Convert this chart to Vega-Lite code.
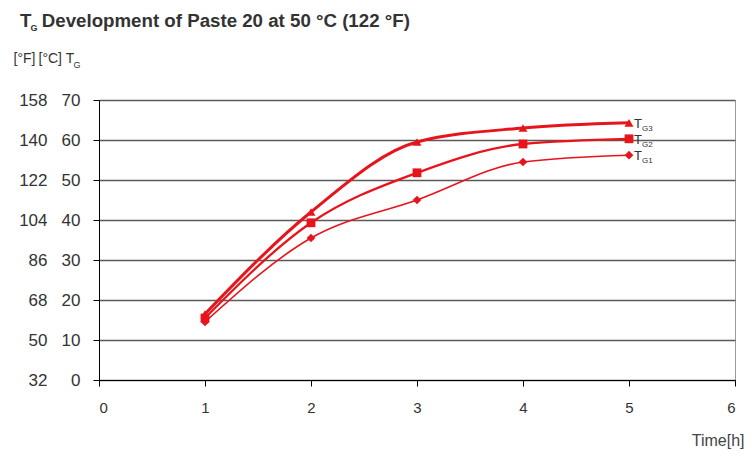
{
  "$schema": "https://vega.github.io/schema/vega-lite/v6.json",
  "width": 636,
  "height": 280,
  "autosize": {"type": "none"},
  "padding": {"left": 99, "top": 100, "right": 20, "bottom": 79},
  "background": "white",
  "config": {
    "font": "Liberation Sans",
    "view": {"stroke": "#9a9a9a", "strokeWidth": 1}
  },
  "title": {
    "text": "T\u00a0\u00a0Development of Paste 20 at 50 °C (122 °F)",
    "anchor": "start",
    "frame": "group",
    "dx": -79,
    "offset": -8,
    "fontSize": 18.7,
    "fontWeight": "bold",
    "color": "#333333"
  },
  "data": {
    "values": [
      {"series": "G3", "time": 1, "temp": 16.5},
      {"series": "G3", "time": 2, "temp": 42},
      {"series": "G3", "time": 3, "temp": 59.5},
      {"series": "G3", "time": 4, "temp": 63},
      {"series": "G3", "time": 5, "temp": 64.3},
      {"series": "G2", "time": 1, "temp": 15.5},
      {"series": "G2", "time": 2, "temp": 39.3},
      {"series": "G2", "time": 3, "temp": 51.8},
      {"series": "G2", "time": 4, "temp": 59},
      {"series": "G2", "time": 5, "temp": 60.3},
      {"series": "G1", "time": 1, "temp": 14.5},
      {"series": "G1", "time": 2, "temp": 35.5},
      {"series": "G1", "time": 3, "temp": 45},
      {"series": "G1", "time": 4, "temp": 54.5},
      {"series": "G1", "time": 5, "temp": 56.2}
    ]
  },
  "layer": [
    {
      "mark": {"type": "line", "interpolate": "monotone", "color": "#e8141c"},
      "encoding": {
        "x": {
          "field": "time", "type": "quantitative",
          "scale": {"domain": [0, 6], "nice": false},
          "axis": {
            "values": [0, 1, 2, 3, 4, 5, 6],
            "format": "d",
            "grid": false,
            "domainColor": "#000000",
            "tickColor": "#000000",
            "tickSize": 6,
            "labelFontSize": 15,
            "labelColor": "#333333",
            "labelPadding": 14,
            "title": "Time[h]",
            "titleFontSize": 16,
            "titleFontWeight": "normal",
            "titleColor": "#444444",
            "titleAlign": "right",
            "titleBaseline": "middle",
            "titleX": 645,
            "titleY": 60
          }
        },
        "y": {
          "field": "temp", "type": "quantitative",
          "scale": {"domain": [0, 70], "nice": false, "zero": true},
          "axis": {
            "orient": "left",
            "values": [0, 10, 20, 30, 40, 50, 60, 70],
            "grid": true,
            "gridColor": "#5a5a5a",
            "gridWidth": 1.5,
            "gridOpacity": 1,
            "domainColor": "#000000",
            "tickColor": "#000000",
            "tickSize": 6,
            "labelFontSize": 17,
            "labelColor": "#333333",
            "labelPadding": 13,
            "title": "[°C] T",
            "titleAngle": 0,
            "titleAlign": "left",
            "titleBaseline": "middle",
            "titleFontSize": 14,
            "titleFontWeight": "normal",
            "titleColor": "#333333",
            "titleX": -61,
            "titleY": -42
          }
        },
        "detail": {"field": "series", "type": "nominal"},
        "strokeWidth": {
          "field": "series", "type": "nominal",
          "scale": {"domain": ["G3", "G2", "G1"], "range": [3, 1.6, 1.1]},
          "legend": null
        }
      }
    },
    {
      "mark": {"type": "point", "filled": true, "opacity": 1, "color": "#e8141c"},
      "encoding": {
        "x": {
          "field": "time", "type": "quantitative",
          "scale": {"domain": [0, 6], "nice": false},
          "axis": null
        },
        "y": {
          "field": "temp", "type": "quantitative",
          "scale": {"domain": [0, 70], "nice": false, "zero": true},
          "axis": {
            "orient": "left",
            "offset": 50,
            "values": [0, 10, 20, 30, 40, 50, 60, 70],
            "labelExpr": "format(datum.value * 1.8 + 32, 'd')",
            "grid": false,
            "domain": false,
            "ticks": false,
            "labelFontSize": 17,
            "labelColor": "#333333",
            "labelPadding": 2,
            "title": "[°F]",
            "titleAngle": 0,
            "titleAlign": "left",
            "titleBaseline": "middle",
            "titleFontSize": 14,
            "titleFontWeight": "normal",
            "titleColor": "#333333",
            "titleX": -36,
            "titleY": -42
          }
        },
        "shape": {
          "field": "series", "type": "nominal",
          "scale": {"domain": ["G3", "G2", "G1"], "range": ["triangle-up", "square", "diamond"]},
          "legend": null
        },
        "size": {
          "field": "series", "type": "nominal",
          "scale": {"domain": ["G3", "G2", "G1"], "range": [80, 75, 28]},
          "legend": null
        }
      }
    },
    {
      "transform": [{"filter": "datum.time == 5"}],
      "mark": {"type": "text", "text": "T", "align": "left", "baseline": "middle", "dx": 5, "dy": 1, "fontSize": 13, "color": "#333333"},
      "encoding": {
        "x": {
          "field": "time", "type": "quantitative",
          "scale": {"domain": [0, 6], "nice": false},
          "axis": {
            "orient": "top",
            "labels": false,
            "ticks": false,
            "domain": false,
            "grid": false,
            "title": "G",
            "titleAngle": 0,
            "titleAlign": "left",
            "titleBaseline": "middle",
            "titleFontSize": 9,
            "titleFontWeight": "bold",
            "titleColor": "#333333",
            "titleX": -69,
            "titleY": -73
          }
        },
        "y": {
          "field": "temp", "type": "quantitative",
          "scale": {"domain": [0, 70], "nice": false, "zero": true},
          "axis": {
            "orient": "left",
            "labels": false,
            "ticks": false,
            "domain": false,
            "grid": false,
            "title": "G",
            "titleAngle": 0,
            "titleAlign": "left",
            "titleBaseline": "middle",
            "titleFontSize": 9,
            "titleFontWeight": "normal",
            "titleColor": "#333333",
            "titleX": -26,
            "titleY": -36
          }
        }
      }
    },
    {
      "transform": [{"filter": "datum.time == 5"}],
      "mark": {"type": "text", "align": "left", "baseline": "middle", "dx": 13, "dy": 6, "fontSize": 8, "color": "#333333"},
      "encoding": {
        "x": {
          "field": "time", "type": "quantitative",
          "scale": {"domain": [0, 6], "nice": false},
          "axis": null
        },
        "y": {
          "field": "temp", "type": "quantitative",
          "scale": {"domain": [0, 70], "nice": false, "zero": true},
          "axis": null
        },
        "text": {"field": "series", "type": "nominal"}
      }
    }
  ],
  "resolve": {"scale": {"y": "independent", "x": "independent"}}
}
